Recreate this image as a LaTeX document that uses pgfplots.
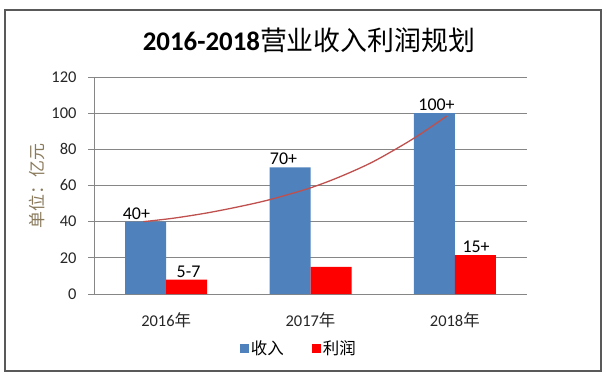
\documentclass[border=0pt]{standalone}
\usepackage{fontspec}
\setmainfont{Carlito}
\newfontfamily\cjk{Noto Sans CJK SC}
\usepackage{pgfplots}
\pgfplotsset{compat=1.18}
\definecolor{barblue}{HTML}{4F81BD}
\definecolor{barred}{HTML}{FF0000}
\definecolor{curvered}{HTML}{C0504D}
\definecolor{gridgray}{HTML}{868686}
\definecolor{framegray}{HTML}{595959}
\definecolor{labelbrown}{HTML}{8A7A5C}
\begin{document}
\begin{tikzpicture}
\path[use as bounding box] (0,0) rectangle (607bp,377bp);
\draw[framegray, line width=1.5bp] (5bp,6bp) rectangle (601bp,367bp);
\begin{axis}[
  at={(94bp,83bp)}, anchor=south west, scale only axis,
  width=433bp, height=217bp,
  xmin=-0.5, xmax=2.5, ymin=0, ymax=120,
  ytick={0,20,...,120},
  xtick={0,1,2},
  xticklabels={2016{\cjk 年},2017{\cjk 年},2018{\cjk 年}},
  axis x line*=bottom, axis y line*=left,
  axis line style={gridgray, line width=0.8bp},
  ymajorgrids, grid style={gridgray, line width=0.8bp},
  tick align=outside, major tick length=6bp,
  xtick style={draw=none},
  ytick style={gridgray, line width=0.8bp},
  /pgf/number format/assume math mode=true,
  tick label style={font=\fontsize{16.5}{18}\selectfont, text=black!85},
  yticklabel style={xshift=-8bp},
  xticklabel style={yshift=-9bp},
  legend columns=2,
  legend style={at={(0.473,-0.251)}, anchor=center, draw=none, fill=none,
    font=\fontsize{16.5}{18}\selectfont\cjk,
    nodes={inner sep=2bp},
    /tikz/every even column/.append style={column sep=26bp}},
  clip=false,
]
\addplot[ybar, bar width=41bp, bar shift=-20.5bp, fill=barblue, draw=none,
  legend image code/.code={\fill[barblue] (0bp,-4.5bp) rectangle (9bp,4.5bp);}]
  coordinates {(0,40) (1,70) (2,100)};
\addlegendentry{收入}
\addplot[ybar, bar width=41bp, bar shift=20.5bp, fill=barred, draw=none,
  legend image code/.code={\fill[barred] (0bp,-4.5bp) rectangle (9bp,4.5bp);}]
  coordinates {(0,8) (1,15) (2,21.5)};
\addlegendentry{利润}
\addplot[curvered, line width=1.3bp, smooth, tension=0.5, forget plot]
  coordinates {(-0.159,40) (0.049,41.9) (0.281,44.8) (0.511,48.4) (0.719,52.2)
    (0.992,58.5) (1.2,64.7) (1.435,73.2) (1.712,85.9) (1.944,98.4)};
\addplot[draw=none, mark=none, forget plot,
  nodes near coords, point meta=explicit symbolic,
  every node near coord/.style={anchor=base, yshift=2.5bp, inner sep=0pt,
    font=\fontsize{18}{20}\selectfont, text=black}]
  coordinates {(-0.206,40)[40+] (0.813,70)[70+] (1.873,100)[100+]
    (0.155,8)[5-7] (2.147,21.5)[15+]};
\end{axis}
\node[font=\fontsize{27}{30}\selectfont] at (309bp,337bp)
  {{\bfseries 2016-2018}{\cjk 营业收入利润规划}};
\node[rotate=90, font=\fontsize{17}{19}\selectfont\cjk, text=labelbrown]
  at (37bp,191bp) {单位：亿元};
\end{tikzpicture}
\end{document}
